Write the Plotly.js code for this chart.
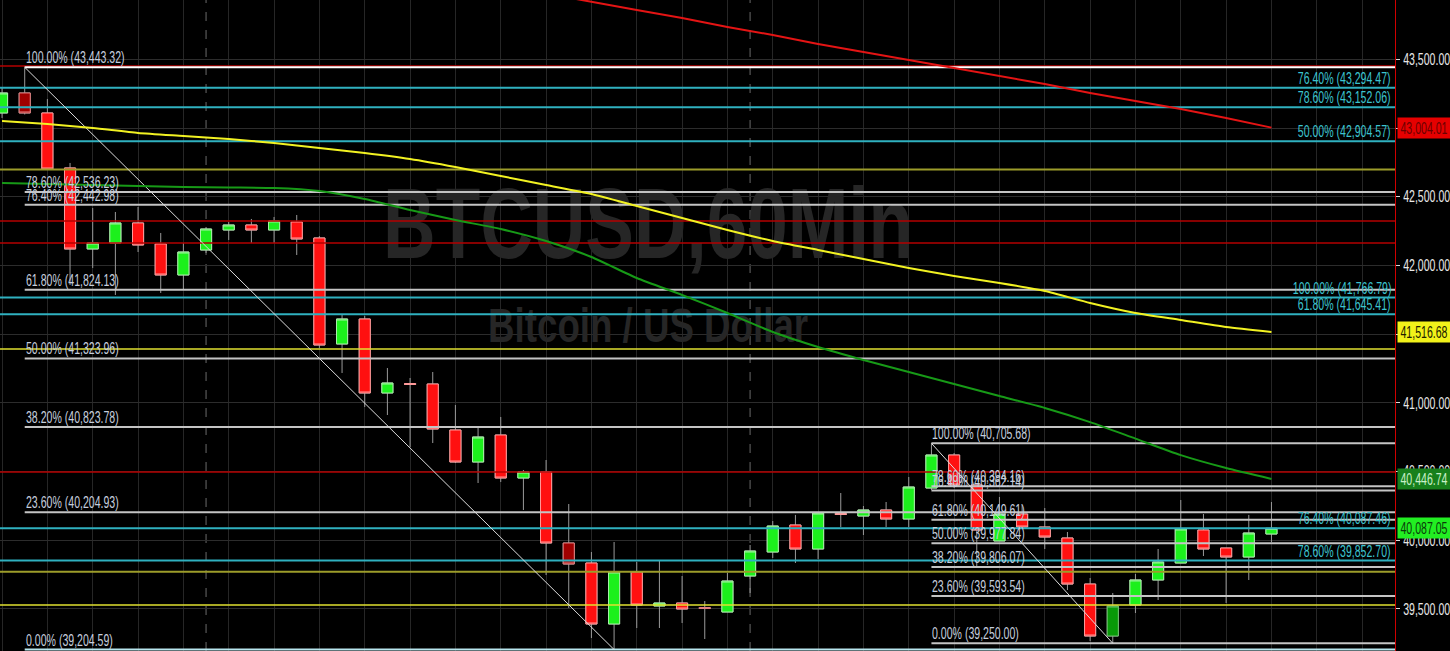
<!DOCTYPE html>
<html><head><meta charset="utf-8">
<script src="https://cdn.plot.ly/plotly-3.0.1.min.js"></script>
<style>html,body{margin:0;padding:0;background:#000;}#chart{width:1450px;height:651px;}</style>
</head><body><div id="chart"></div>
<script>
// ---- candle data (hourly bars, index 0..56) ----
const candleOpen = [43110.6,43256.2,43110.6,42710.2,42120.5,42164.2,42309.8,42157.0,41931.2,42113.2,
  42258.8,42295.2,42258.8,42317.0,42200.6,41428.9,41610.9,41072.2,41141.3,41137.7,
  40802.8,40569.8,40766.4,40453.4,40497.0,39980.2,39834.6,39390.5,39769.0,39521.5,
  39543.4,39510.6,39477.8,39739.9,39914.6,40111.2,39936.5,40195.0,40176.7,40220.4,
  40154.9,40380.6,40620.8,40402.4,39995.0,40191.3,40096.6,40016.5,39681.6,39303.2,
  39529.0,39711.0,39834.6,40074.8,39943.8,39878.2,40045.7];
const candleHigh = [43292.6,43443.32,43212.5,42746.6,42419.0,42389.8,42426.2,42237.0,42164.2,42280.6,
  42317.0,42338.9,42353.5,42368.0,42215.0,41640.0,41632.7,41254.0,41181.4,41225.0,
  40984.8,40817.4,40897.6,40511.6,40584.4,40264.0,39914.6,39987.4,39841.8,39856.4,
  39740.0,39557.9,39761.8,39965.6,40140.3,40184.6,40198.6,40344.2,40249.5,40278.6,
  40460.6,40705.68,40635.4,40402.4,40315.0,40257.0,40235.0,40060.2,39725.4,39616.2,
  39754.5,39936.5,40293.2,40191.3,39943.8,40184.6,40278.6];
const candleLow = [43074.2,43099.6,42695.6,41858.4,41982.2,41785.6,42098.6,41800.2,41822.0,42091.4,
  42186.0,42164.2,42164.2,42076.8,41400.0,41217.8,40970.3,40912.0,40679.0,40708.0,
  40562.6,40417.0,40424.3,40220.4,39747.2,39507.0,39288.6,39204.59,39361.4,39361.4,
  39397.8,39281.3,39477.8,39616.2,39871.0,39834.6,39864.0,40096.6,40038.4,40096.6,
  40096.6,40366.0,40380.6,39805.4,39995.0,40096.6,39936.5,39638.0,39266.0,39250.0,
  39470.6,39565.2,39834.6,39885.5,39543.4,39710.8,39987.4];
const candleClose = [43256.2,43110.6,42703.0,42120.5,42164.2,42309.8,42149.6,41931.2,42098.6,42266.0,
  42295.2,42258.8,42324.3,42193.3,41421.6,41610.9,41072.2,41145.0,41134.0,40810.1,
  40569.8,40751.8,40453.4,40497.0,39980.2,39827.3,39390.5,39769.0,39528.8,39543.4,
  39499.7,39503.3,39703.5,39922.0,40103.9,39936.5,40198.6,40187.7,40220.4,40154.9,
  40387.8,40620.8,40402.4,40074.8,40191.3,40096.6,40023.8,39681.6,39303.2,39521.5,
  39711.0,39842.0,40082.0,39936.5,39878.2,40053.0,40087.05];
const darkCandles = [1, 25, 31, 49];

// ---- moving averages (value read at bar index) ----
const maIdx = [0,2,4,6,8,10,12,14,16,18,20,22,24,26,28,30,32,34,36,38,40,42,44,46,48,50,52,54,56];
const yellowMA = [43052.3,43030.5,43001.4,42965.0,42943.1,42921.3,42892.2,42855.8,42819.4,42775.7,
  42717.4,42651.7,42586.4,42521.0,42433.6,42346.2,42258.8,42178.7,42113.2,42047.7,
  41982.2,41923.9,41873.0,41814.7,41727.4,41654.6,41603.6,41552.6,41516.68];
const greenMA = [42601.0,42593.7,42586.4,42579.0,42571.8,42568.0,42564.6,42542.7,42484.5,42404.4,
  42331.6,42266.0,42178.7,42062.2,41909.4,41785.6,41654.6,41516.3,41407.0,41312.4,
  41225.0,41137.7,41050.3,40963.0,40860.0,40740.0,40620.0,40526.0,40446.74];
const redIdx = [25,26,28,30,32,34,36,38,40,42,44,46,48,50,52,54,56];
const redMA = [43950,43922,43860.4,43802,43736.6,43678.4,43612.9,43554.6,43496.4,43438.2,
  43379.9,43321.7,43256.2,43197.9,43139.7,43074.2,43004.01];

// ---- Fibonacci sets ----
const fibAStart = 1, fibAEnd = 27;
const fibALevels = [43443.32,42536.23,42442.98,41824.13,41323.96,40823.78,40204.93,39204.59];
const fibAPct = ['100.00%','78.60%','76.40%','61.80%','50.00%','38.20%','23.60%','0.00%'];
const fibBStart = 41, fibBEnd = 49;
const fibBLevels = [40705.68,40394.16,40362.14,40149.61,39977.84,39806.07,39593.54,39250.00];
const fibBPct = ['100.00%','78.60%','76.40%','61.80%','50.00%','38.20%','23.60%','0.00%'];
const cyanLevels = [43294.47,43152.06,42904.57,41766.79,41645.41,40087.46,39852.70];
const cyanPct = ['76.40%','78.60%','50.00%','100.00%','61.80%','76.40%','78.60%'];
const redLevels = [43452,42324,42164,40497];
const oliveLevels = [42700,39770];
const yellowLevels = [41393,39528];
const daySeparators = [9, 33];

// ---- last-value tags ----
const tagValues = [43004.01, 41516.68, 40446.74, 40087.05];
const tagBg = ['#e60000','#f2f21a','#17801c','#22ee22'];
const tagFg = ['#6a0000','#202000','#c8f0c8','#0a3a0a'];

const X0 = -0.09, X1 = 61.45, Y0 = 39194, Y1 = 43933;
const FONT = '"Liberation Sans", Arial, sans-serif';
const FS = 16;
const fmt = v => v.toLocaleString('en-US',{minimumFractionDigits:2, maximumFractionDigits:2});
const idx = candleOpen.map((_, i) => i);

const traces = [];
// watermark
traces.push({type:'scatter', mode:'text', x:[28.5], y:[42237], text:['BTCUSD,60Min'],
  textfont:{family:FONT, size:100, color:'#262626', weight:700}, textposition:'middle center', hoverinfo:'skip', showlegend:false});
traces.push({type:'scatter', mode:'text', x:[28.5], y:[41531], text:['Bitcoin / US Dollar'],
  textfont:{family:FONT, size:49, color:'#262626', weight:700}, textposition:'middle center', hoverinfo:'skip', showlegend:false});

function hline(v, xs, color, w){
  traces.push({type:'scatter', mode:'lines', x:[xs, X1], y:[v, v], line:{color:color, width:w}, hoverinfo:'skip', showlegend:false});
}
redLevels.forEach(v => hline(v, X0, '#b40000', 1.5));
oliveLevels.forEach(v => hline(v, X0, '#9c9c2a', 2));
yellowLevels.forEach(v => hline(v, X0, '#e0e030', 1.5));
cyanLevels.forEach(v => hline(v, X0, '#2fb0bf', 2));
fibALevels.forEach((v, k) => hline(v, fibAStart, k === 0 ? '#ffffff' : (k === fibALevels.length-1 ? '#b8e6ee' : '#c4c4c4'), 2));
fibBLevels.forEach(v => hline(v, fibBStart, '#c4c4c4', 2));

// diagonals
traces.push({type:'scatter', mode:'lines', x:[fibAStart, fibAEnd], y:[fibALevels[0], fibALevels[fibALevels.length-1]], line:{color:'#dcdcdc', width:1}, hoverinfo:'skip', showlegend:false});
traces.push({type:'scatter', mode:'lines', x:[fibBStart, fibBEnd], y:[fibBLevels[0], fibBLevels[fibBLevels.length-1]], line:{color:'#dcdcdc', width:1}, hoverinfo:'skip', showlegend:false});

// moving averages
traces.push({type:'scatter', mode:'lines', x:maIdx, y:greenMA, line:{color:'#179a17', width:2, shape:'spline', smoothing:0.6}, hoverinfo:'skip', showlegend:false});
traces.push({type:'scatter', mode:'lines', x:maIdx, y:yellowMA, line:{color:'#f2f222', width:2, shape:'spline', smoothing:0.6}, hoverinfo:'skip', showlegend:false});
traces.push({type:'scatter', mode:'lines', x:redIdx, y:redMA, line:{color:'#e41414', width:2}, hoverinfo:'skip', showlegend:false});

// candles: full range with grey wicks, then bodies with light outlines
const pick = (arr, keep) => arr.filter((_, i) => keep(i));
const isDark = i => darkCandles.includes(i);
const isNorm = i => !isDark(i);
const bodyTop = candleOpen.map((o, i) => Math.max(o, candleClose[i]));
const bodyBot = candleOpen.map((o, i) => Math.min(o, candleClose[i]));
function candles(keep, upFill, downFill, upLine, downLine, wick){
  traces.push({type:'candlestick', x:pick(idx,keep), open:pick(candleOpen,keep), high:pick(candleHigh,keep),
    low:pick(candleLow,keep), close:pick(candleClose,keep),
    increasing:{fillcolor:upFill, line:{color:wick, width:1}},
    decreasing:{fillcolor:downFill, line:{color:wick, width:1}}, hoverinfo:'skip', showlegend:false});
  traces.push({type:'candlestick', x:pick(idx,keep), open:pick(candleOpen,keep), high:pick(bodyTop,keep),
    low:pick(bodyBot,keep), close:pick(candleClose,keep),
    increasing:{fillcolor:upFill, line:{color:upLine, width:1}},
    decreasing:{fillcolor:downFill, line:{color:downLine, width:1}}, hoverinfo:'skip', showlegend:false});
}
candles(isNorm, '#1cf01c', '#ff1010', '#a8f0a8', '#ff9a9a', '#9a9a9a');
candles(isDark, '#089a08', '#a00000', '#70c070', '#e08080', '#9a9a9a');

const annotations = [];
fibALevels.forEach((v, k) => annotations.push({xref:'x', yref:'y', x:fibAStart, y:v, xanchor:'left', yanchor:'bottom', align:'left',
  text:fibAPct[k] + ' (' + fmt(v) + ')', showarrow:false, font:{family:FONT, size:FS, color:'#c6cede'}, borderpad:0, yshift:0}));
fibBLevels.forEach((v, k) => annotations.push({xref:'x', yref:'y', x:fibBStart, y:v, xanchor:'left', yanchor:'bottom', align:'left',
  text:fibBPct[k] + ' (' + fmt(v) + ')', showarrow:false, font:{family:FONT, size:FS, color:'#c6cede'}, borderpad:0, yshift:0}));
cyanLevels.forEach((v, k) => annotations.push({xref:'paper', yref:'y', x:1, y:v, xanchor:'right', yanchor:'bottom', align:'right', xshift:-3,
  text:cyanPct[k] + ' (' + fmt(v) + ')', showarrow:false, font:{family:FONT, size:FS, color:'#3cc4d0'}, borderpad:0, yshift:0}));
tagValues.forEach((v, k) => annotations.push({xref:'paper', yref:'y', x:1, y:v, xanchor:'left', yanchor:'middle', xshift:2,
  width:50, height:18, align:'center',
  text:fmt(v), showarrow:false, bgcolor:tagBg[k], font:{family:FONT, size:FS, color:tagFg[k]}, borderpad:1}));

const shapes = daySeparators.map(d => ({type:'line', xref:'x', yref:'paper', x0:d, x1:d, y0:0, y1:1, layer:'below',
  line:{color:'#6a6a6a', width:1, dash:'dash'}}));

const layout = {
  width:1450, height:651, margin:{l:0, r:55, t:0, b:0},
  paper_bgcolor:'#000', plot_bgcolor:'#000', showlegend:false,
  xaxis:{range:[X0, X1], showticklabels:false, showgrid:true, gridcolor:'#262626', gridwidth:1, dtick:2, tick0:0,
    zeroline:false, showline:false, rangeslider:{visible:false}, fixedrange:true},
  yaxis:{range:[Y0, Y1], side:'right', dtick:500, tick0:0, tickformat:',.2f', showgrid:true, gridcolor:'#2c2c2c',
    zeroline:false, showline:true, linecolor:'#d00000', linewidth:1, ticks:'outside', ticklen:4, tickcolor:'#dddddd',
    tickfont:{family:FONT, size:FS, color:'#e8e8e8'}, fixedrange:true},
  annotations:annotations, shapes:shapes
};

// narrow the text horizontally (reference uses a strongly condensed face)
function squeeze(){
  document.querySelectorAll('#chart svg text').forEach(t => {
    if (t.getAttribute('data-sq')) return;
    const s = t.textContent;
    if (!s) return;
    const len = t.getComputedTextLength();
    if (!len) return;
    let target = len * 0.66;
    if (s === 'BTCUSD,60Min') target = 530;
    if (s === 'Bitcoin / US Dollar') target = 320;
    t.setAttribute('textLength', target.toFixed(2));
    t.setAttribute('lengthAdjust', 'spacingAndGlyphs');
    t.setAttribute('data-sq', '1');
  });
}
Plotly.newPlot('chart', traces, layout, {displayModeBar:false, staticPlot:true}).then(squeeze);
</script>
</body></html>
